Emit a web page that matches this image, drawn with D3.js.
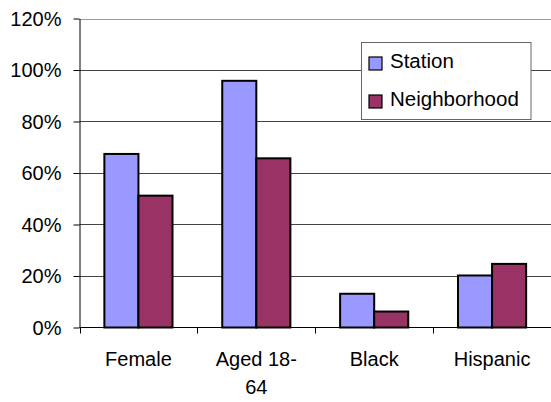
<!DOCTYPE html>
<html>
<head>
<meta charset="utf-8">
<script src="https://cdn.jsdelivr.net/npm/d3@7"></script>
<style>
body { margin: 0; background: #fff; }
svg text { font-family: "Liberation Sans", Arial, sans-serif; font-size: 20px; fill: #000; }
</style>
</head>
<body>
<svg id="chart" width="551" height="402"></svg>
<script>
// values
var categories = ["Female", "Aged 18-64", "Black", "Hispanic"];
var seriesNames = ["Station", "Neighborhood"];
var station = [0.674, 0.958, 0.131, 0.202];
var neighborhood = [0.512, 0.657, 0.062, 0.247];
var yTicks = [0, 0.2, 0.4, 0.6, 0.8, 1.0, 1.2];
var colors = ["#9999FF", "#993366"];

var svg = d3.select("#chart");
var plotLeft = 79.5, plotRight = 551, plotTop = 18.5, plotBottom = 327.5;

var x = d3.scaleBand().domain(categories).range([plotLeft, plotRight]).paddingInner(0).paddingOuter(0);
var x1 = d3.scaleBand().domain(seriesNames).range([0, x.bandwidth()]).paddingOuter(0.73).paddingInner(0);
var y = d3.scaleLinear().domain([0, 1.2]).range([plotBottom, plotTop]);

// gridlines
svg.append("g").selectAll("line")
	.data(yTicks.slice(1))
	.enter()
	.append("line")
	.attr("x1", plotLeft).attr("x2", plotRight)
	.attr("y1", function(d){return Math.round(y(d)) + 0.5;})
	.attr("y2", function(d){return Math.round(y(d)) + 0.5;})
	.attr("stroke", function(d){return d == 1.2 ? "#999" : "#444";})
	.attr("stroke-width", 1);

// bars
var rows = categories.map(function(c, i){ return {cat: c, vals: [station[i], neighborhood[i]]}; });
var groups = svg.append("g").selectAll("g")
	.data(rows)
	.enter()
	.append("g")
	.attr("transform", function(d){return "translate(" + x(d.cat) + ",0)";});

groups.selectAll("rect")
	.data(function(d){return d.vals.map(function(v, j){return {name: seriesNames[j], v: v, j: j};});})
	.enter()
	.append("rect")
	.attr("x", function(d){return x1(d.name);})
	.attr("width", x1.bandwidth())
	.attr("y", function(d){return y(d.v);})
	.attr("height", function(d){return plotBottom - y(d.v);})
	.attr("fill", function(d){return colors[d.j];})
	.attr("stroke", "#000")
	.attr("stroke-width", 2);

// y axis
var yAxis = d3.axisLeft(y).tickValues(yTicks).tickFormat(d3.format(".0%")).tickSize(6).tickPadding(12).tickSizeOuter(0);
var yg = svg.append("g").attr("transform", "translate(" + plotLeft + ",0)").call(yAxis);
yg.select(".domain").attr("stroke", "#000");
yg.selectAll(".tick line").attr("stroke", "#000");
yg.selectAll("text").attr("font-size", null).attr("font-family", null).attr("fill", "#000").attr("dy", "0.34em");
yg.attr("font-size", null).attr("font-family", null);

// x axis
var xg = svg.append("g").attr("transform", "translate(0," + plotBottom + ")");
xg.append("line").attr("x1", plotLeft).attr("x2", plotRight).attr("y1", 0).attr("y2", 0).attr("stroke", "#000");
xg.selectAll(".xt")
	.data(categories)
	.enter()
	.append("line")
	.attr("class", "xt")
	.attr("x1", function(d){return Math.round(x(d)) + 0.5;})
	.attr("x2", function(d){return Math.round(x(d)) + 0.5;})
	.attr("y1", 0).attr("y2", 6)
	.attr("stroke", "#000");

var xl = xg.selectAll(".xl")
	.data(categories)
	.enter()
	.append("text")
	.attr("class", "xl")
	.attr("text-anchor", "middle")
	.attr("y", 38.5);
xl.each(function(d){
	var parts = d == "Aged 18-64" ? ["Aged 18-", "64"] : [d];
	var t = d3.select(this);
	parts.forEach(function(p, k){
		t.append("tspan")
		.attr("x", x(d) + x.bandwidth() / 2)
		.attr("dy", k == 0 ? 0 : 28)
		.text(p);
	});
});

// legend
var lg = svg.append("g").attr("transform", "translate(361.5,42.5)");
lg.append("rect").attr("x", 0).attr("y", 0).attr("width", 169.5).attr("height", 77)
	.attr("fill", "#fff").attr("stroke", "#666").attr("stroke-width", 1);
seriesNames.forEach(function(n, i){
	lg.append("rect")
	.attr("x", 7.5).attr("y", 14.5 + i * 38)
	.attr("width", 13).attr("height", 13)
	.attr("fill", colors[i]).attr("stroke", "#000").attr("stroke-width", 1.2);
	lg.append("text")
	.attr("x", 28.5).attr("y", 25 + i * 38)
	.style("font-size", "20.5px")
	.text(n);
});
</script>
</body>
</html>
